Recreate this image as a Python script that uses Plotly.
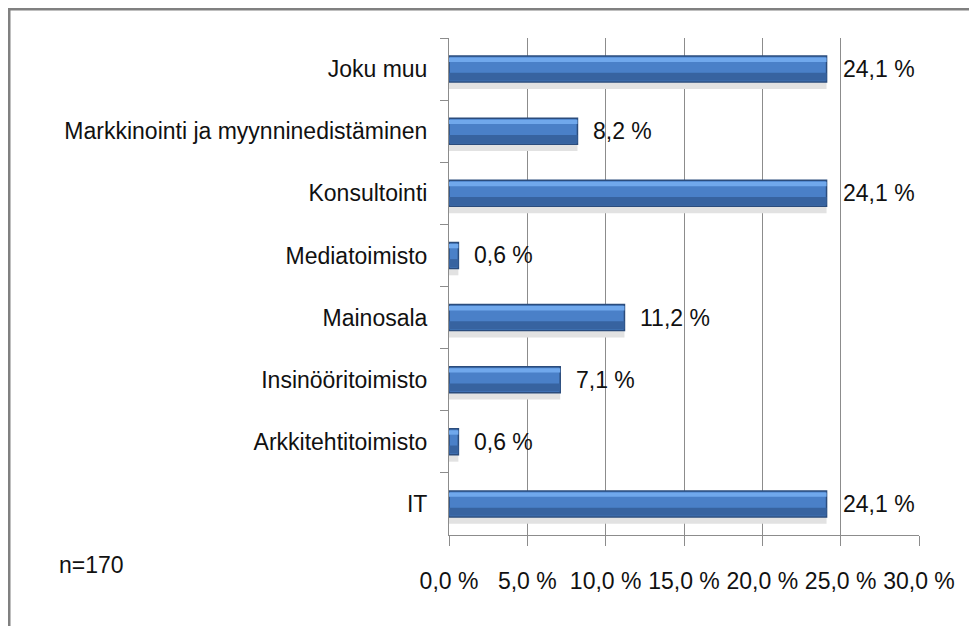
import plotly.graph_objects as go

# data (top to bottom as shown)
categories = [
    "Joku muu",
    "Markkinointi ja myynninedistäminen",
    "Konsultointi",
    "Mediatoimisto",
    "Mainosala",
    "Insinööritoimisto",
    "Arkkitehtitoimisto",
    "IT",
]
shares = [24.1, 8.2, 24.1, 0.6, 11.2, 7.1, 0.6, 24.1]
tick_vals = [0, 5, 10, 15, 20, 25, 30]
tick_text = ["0,0 %", "5,0 %", "10,0 %", "15,0 %", "20,0 %", "25,0 %", "30,0 %"]
sample_note = "n=170"

# page has an 8px body margin, so positions below are page px minus 8
W, H = 977, 626
ml, mr, mt, mb = 441, 66, 30, 99
pw, ph = W - ml - mr, H - mt - mb


def px_x(p):
    return (p - ml) / pw


def px_y(p):
    return (H - mb - p) / ph


labels = [f"{v:.1f} %".replace(".", ",") for v in shares]
font = "Liberation Sans, Arial, sans-serif"
txt = dict(size=23, color="#111111", family=font)

fig = go.Figure()
# soft shadow under each bar
fig.add_trace(go.Bar(
    x=shares, y=categories, orientation="h", offset=0.2, width=0.12,
    marker=dict(color="#e2e2e2", line_width=0), hoverinfo="skip",
))
# main bar
fig.add_trace(go.Bar(
    x=shares, y=categories, orientation="h", offset=-0.21, width=0.42,
    marker=dict(color="#4a80c8", line=dict(color="#2b4c7c", width=1.5)),
))
# light top band
fig.add_trace(go.Bar(
    x=shares, y=categories, orientation="h", offset=-0.185, width=0.07,
    marker=dict(color="#70a8ec", line_width=0), hoverinfo="skip",
))
# darker lower band
fig.add_trace(go.Bar(
    x=shares, y=categories, orientation="h", offset=0.06, width=0.13,
    marker=dict(color="#3763a0", line_width=0), hoverinfo="skip",
))

for cat, v, lab in zip(categories, shares, labels):
    fig.add_annotation(
        x=v, y=cat, text=lab, showarrow=False,
        xanchor="left", yanchor="middle", xshift=14, font=txt,
    )

fig.update_xaxes(
    range=[0, 30], tickvals=tick_vals, ticktext=tick_text,
    showgrid=True, gridcolor="#8c8c8c", gridwidth=1,
    showline=True, linecolor="#8c8c8c", linewidth=1,
    ticks="outside", ticklen=10, tickcolor="#8c8c8c",
    tickfont=txt, ticklabelstandoff=15, zeroline=False,
)
fig.update_yaxes(
    autorange="reversed", tickson="boundaries",
    showline=True, linecolor="#8c8c8c", linewidth=1,
    ticks="outside", ticklen=8, tickcolor="#8c8c8c",
    tickfont=txt, ticklabelstandoff=16, showgrid=False,
)

fig.add_annotation(
    text=sample_note, xref="paper", yref="paper",
    x=px_x(49), y=px_y(557), xanchor="left", yanchor="middle",
    showarrow=False, font=txt,
)

# outer frame of the original chart
fig.add_shape(
    type="rect", xref="paper", yref="paper",
    x0=px_x(1), x1=px_x(990), y0=px_y(1), y1=px_y(640),
    line=dict(color="#808080", width=3), layer="above",
)

fig.update_layout(
    width=W, height=H,
    margin=dict(l=ml, r=mr, t=mt, b=mb),
    plot_bgcolor="white", paper_bgcolor="white",
    barmode="overlay", showlegend=False,
)

fig.write_html("out.html")
